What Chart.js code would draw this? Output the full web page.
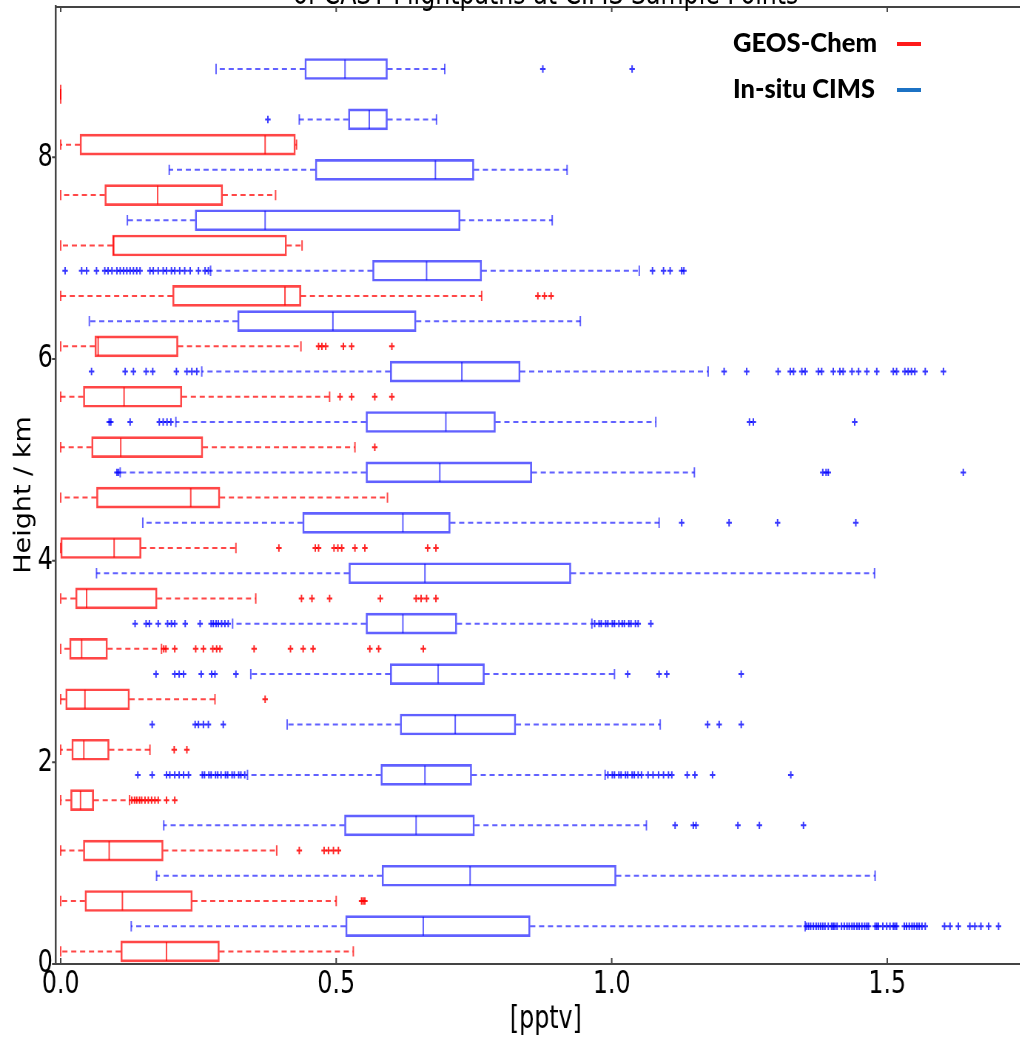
<!DOCTYPE html>
<html>
<head>
<meta charset="utf-8">
<script src="https://cdn.jsdelivr.net/npm/chart.js@4.4.1/dist/chart.umd.min.js"></script>
<style>
  html, body { margin: 0; padding: 0; overflow: hidden; background: #fff; width: 1020px; height: 1039px; }
  /* the figure is laid out at full width and squeezed horizontally */
  #stage { position: absolute; left: 0; top: 0; width: 1420px; height: 1039px;
           transform: scaleX(0.74); transform-origin: 0 0; }
  #plot { position: absolute; left: 0; top: 0; }
  #title { position: absolute; top: -23px; left: 75px; width: 1325px; text-align: center;
           font-family: 'DejaVu Sans'; font-size: 32px; line-height: 32px; white-space: nowrap; color: #000; }
  .legText { position: absolute; left: 733px; font-family: Lato, 'Open Sans', sans-serif; font-weight: 900;
             font-size: 26px; line-height: 26px; white-space: nowrap; color: #000; transform-origin: 0 0; }
  .legLine { position: absolute; left: 897px; width: 24px; height: 4px; }
</style>
</head>
<body>
<div id="stage">
  <canvas id="plot" width="1420" height="1039"></canvas>
  <div id="title">of CAST Flightpaths at CIMS Sample Points</div>
</div>
<div class="legText" id="legGeos" style="top:28.6px">GEOS-Chem</div>
<div class="legLine" style="top:42px;background:#ff1a1a"></div>
<div class="legText" id="legCims" style="top:75.2px">In-situ CIMS</div>
<div class="legLine" style="top:88px;background:#1c72c4"></div>

<script>
// ---- axes ----
const X_TICKS = [0, 0.5, 1.0, 1.5];
const Y_TICKS = [0, 2, 4, 6, 8];
const X_TITLE = '[pptv]';
const Y_TITLE = 'Height / km';

// ---- altitude bin centres (km) ----
const geosHeight = [0.125, 0.625, 1.125, 1.625, 2.125, 2.625, 3.125, 3.625, 4.125,
                    4.625, 5.125, 5.625, 6.125, 6.625, 7.125, 7.625, 8.125, 8.625];
const cimsHeight = [0.375, 0.875, 1.375, 1.875, 2.375, 2.875, 3.375, 3.875, 4.375,
                    4.875, 5.375, 5.875, 6.375, 6.875, 7.375, 7.875, 8.375, 8.875];

// ---- GEOS-Chem box statistics (pptv), bottom bin first ----
const geosWhiskerLow  = [0, 0, 0, 0, 0, 0, 0, 0, 0, 0, 0, 0, 0, 0, 0, 0, 0, 0];
const geosQ1          = [0.109, 0.044, 0.041, 0.018, 0.020, 0.009, 0.016, 0.027, 0.000,
                         0.065, 0.056, 0.041, 0.062, 0.203, 0.094, 0.080, 0.035, 0.000];
const geosMedian      = [0.192, 0.112, 0.088, 0.036, 0.042, 0.044, 0.038, 0.047, 0.097,
                         0.236, 0.109, 0.115, 0.068, 0.407, 0.096, 0.176, 0.371, 0.000];
const geosQ3          = [0.288, 0.239, 0.186, 0.060, 0.088, 0.125, 0.085, 0.175, 0.146,
                         0.289, 0.258, 0.220, 0.213, 0.436, 0.410, 0.294, 0.426, 0.000];
const geosWhiskerHigh = [0.531, 0.500, 0.392, 0.125, 0.162, 0.280, 0.183, 0.354, 0.318,
                         0.593, 0.534, 0.488, 0.436, 0.764, 0.438, 0.390, 0.428, 0.000];
const geosOutliers = [
  [],
  [0.546, 0.549, 0.552],
  [0.433, 0.478, 0.486, 0.495, 0.504],
  [0.129, 0.134, 0.138, 0.143, 0.147, 0.153, 0.159, 0.165, 0.171, 0.177, 0.192, 0.207],
  [0.206, 0.229],
  [0.371],
  [0.187, 0.191, 0.207, 0.245, 0.259, 0.276, 0.283, 0.289, 0.351, 0.417, 0.440, 0.458, 0.561, 0.577, 0.658],
  [0.437, 0.456, 0.488, 0.580, 0.645, 0.654, 0.664, 0.681],
  [0.396, 0.462, 0.468, 0.496, 0.503, 0.510, 0.534, 0.552, 0.666, 0.681],
  [],
  [0.570],
  [0.507, 0.528, 0.570, 0.601],
  [0.468, 0.474, 0.481, 0.513, 0.528, 0.601],
  [0.866, 0.878, 0.890],
  [], [], [], []
];

// ---- in-situ CIMS box statistics (pptv), bottom bin first ----
const cimsWhiskerLow  = [0.128, 0.174, 0.187, 0.339, 0.411, 0.345, 0.312, 0.065, 0.149,
                         0.108, 0.209, 0.256, 0.052, 0.272, 0.121, 0.197, 0.433, 0.282];
const cimsQ1          = [0.517, 0.583, 0.515, 0.581, 0.616, 0.598, 0.554, 0.523, 0.439,
                         0.554, 0.554, 0.598, 0.321, 0.566, 0.244, 0.462, 0.522, 0.443];
const cimsMedian      = [0.658, 0.743, 0.645, 0.661, 0.716, 0.685, 0.621, 0.661, 0.621,
                         0.688, 0.699, 0.728, 0.494, 0.664, 0.371, 0.680, 0.560, 0.516];
const cimsQ3          = [0.852, 1.008, 0.751, 0.746, 0.826, 0.769, 0.719, 0.926, 0.707,
                         0.855, 0.789, 0.834, 0.645, 0.764, 0.725, 0.750, 0.593, 0.593];
const cimsWhiskerHigh = [1.351, 1.478, 1.063, 0.988, 1.088, 1.005, 0.964, 1.477, 1.086,
                         1.150, 1.080, 1.175, 0.943, 1.050, 0.892, 0.919, 0.682, 0.697];
const cimsOutliers = [
  [1.353, 1.357, 1.361, 1.366, 1.371, 1.375, 1.379, 1.383, 1.387, 1.393, 1.399, 1.402, 1.405, 1.409,
   1.417, 1.422, 1.427, 1.431, 1.436, 1.440, 1.445, 1.449, 1.454, 1.459, 1.463, 1.466, 1.478, 1.481,
   1.484, 1.492, 1.499, 1.505, 1.511, 1.514, 1.517, 1.531, 1.535, 1.540, 1.545, 1.549, 1.554, 1.558,
   1.563, 1.569, 1.604, 1.614, 1.629, 1.650, 1.659, 1.670, 1.684, 1.702],
  [],
  [1.115, 1.148, 1.153, 1.229, 1.268, 1.348],
  [0.140, 0.166, 0.192, 0.198, 0.207, 0.215, 0.223, 0.232, 0.257, 0.261, 0.269, 0.273, 0.281, 0.285,
   0.291, 0.299, 0.303, 0.311, 0.315, 0.323, 0.327, 0.334,
   0.993, 1.001, 1.005, 1.013, 1.017, 1.025, 1.029, 1.037, 1.041, 1.048, 1.054, 1.066, 1.075, 1.085,
   1.094, 1.103, 1.109, 1.137, 1.151, 1.183, 1.325],
  [0.166, 0.244, 0.250, 0.259, 0.268, 0.295, 1.174, 1.195, 1.235],
  [0.173, 0.207, 0.215, 0.223, 0.255, 0.274, 0.280, 0.318, 1.029, 1.086, 1.100, 1.235],
  [0.135, 0.155, 0.161, 0.177, 0.194, 0.201, 0.207, 0.226, 0.253, 0.273, 0.277, 0.282, 0.286, 0.292,
   0.298, 0.304, 0.969, 0.977, 0.981, 0.989, 0.993, 1.001, 1.005, 1.013, 1.019, 1.023, 1.031, 1.035,
   1.043, 1.048, 1.071],
  [],
  [1.127, 1.213, 1.301, 1.443],
  [0.102, 0.105, 1.383, 1.389, 1.393, 1.638],
  [0.088, 0.091, 0.126, 0.179, 0.186, 0.193, 0.200, 1.250, 1.257, 1.441],
  [0.056, 0.117, 0.132, 0.155, 0.167, 0.210, 0.229, 0.238, 0.247, 1.204, 1.245, 1.302, 1.324, 1.330,
   1.345, 1.351, 1.375, 1.381, 1.402, 1.414, 1.420, 1.436, 1.448, 1.463, 1.481, 1.511, 1.517, 1.532,
   1.538, 1.544, 1.550, 1.569, 1.602],
  [],
  [0.008, 0.038, 0.047, 0.065, 0.080, 0.086, 0.093, 0.102, 0.108, 0.114, 0.120, 0.126, 0.132, 0.138,
   0.144, 0.162, 0.168, 0.177, 0.186, 0.192, 0.201, 0.207, 0.216, 0.225, 0.235, 0.250, 0.262, 0.268,
   1.074, 1.094, 1.106, 1.127, 1.131],
  [],
  [],
  [0.376],
  [0.875, 1.037]
];

// ---- styling ----
const RED = 'rgba(255,0,0,0.72)';
const BLUE = 'rgba(0,0,255,0.62)';
const RED_PT = 'rgba(255,0,0,0.85)';
const BLUE_PT = 'rgba(0,0,255,0.78)';
const AXIS = '#444';
const FONT = 'DejaVu Sans';

// ---- helpers turning the stat arrays into Chart.js points ----
const boxData = (h, q1, q3) => h.map((y, i) => ({ x: [q1[i], q3[i]], y }));
const pointData = (h, v) => h.map((y, i) => ({ x: v[i], y }));
const capData = (h, lo, hi) => h.flatMap((y, i) => [{ x: lo[i], y }, { x: hi[i], y }]);
const whiskerData = (h, lo, q1, q3, hi) => h.flatMap((y, i) => [
  { x: q1[i], y }, { x: lo[i], y }, { x: null, y: null },
  { x: q3[i], y }, { x: hi[i], y }, { x: null, y: null }
]);
const outlierData = (h, outs) => h.flatMap((y, i) => outs[i].map(v => ({ x: v, y })));

function boxSet(h, q1, q3, color) {
  return { type: 'bar', indexAxis: 'y', data: boxData(h, q1, q3),
           backgroundColor: 'rgba(0,0,0,0)', borderColor: color, borderWidth: 2,
           borderSkipped: false, grouped: false, categoryPercentage: 1, barPercentage: 1,
           maxBarThickness: 21 };
}
function whiskerSet(h, lo, q1, q3, hi, color) {
  return { type: 'line', data: whiskerData(h, lo, q1, q3, hi), borderColor: color, borderWidth: 2,
           borderDash: [7, 5], pointRadius: 0, spanGaps: false, fill: false, tension: 0 };
}
function tickMarkSet(data, color, radius) {
  return { type: 'scatter', data, showLine: false, pointStyle: 'line', pointRotation: 90,
           pointRadius: radius, pointBorderColor: color, borderColor: color, pointBorderWidth: 2,
           pointBackgroundColor: color };
}
function outlierSet(data, color) {
  return { type: 'scatter', data, showLine: false, pointStyle: 'cross', pointRadius: 3.7,
           pointBorderColor: color, borderColor: color, pointBorderWidth: 2, pointBackgroundColor: color };
}

// frame on top of the axes plus matplotlib-style tick marks
const framePlugin = {
  id: 'frame',
  afterDatasetsDraw(chart) {
    const { ctx, chartArea: a, scales: { x, y } } = chart;
    ctx.save();
    ctx.strokeStyle = AXIS;
    ctx.lineWidth = 2;
    ctx.beginPath();
    ctx.moveTo(a.left, a.top + 1);
    ctx.lineTo(a.right, a.top + 1);
    X_TICKS.forEach(v => {
      const px = x.getPixelForValue(v);
      ctx.moveTo(px, a.bottom); ctx.lineTo(px, a.bottom - 6);
      ctx.moveTo(px, a.top); ctx.lineTo(px, a.top + 6);
    });
    Y_TICKS.forEach(v => {
      const py = y.getPixelForValue(v);
      ctx.moveTo(a.left - 5, py); ctx.lineTo(a.left, py);
    });
    ctx.stroke();
    ctx.restore();
  }
};

// vertical caption of the height axis, sitting a little below the axis midpoint
const heightCaption = {
  id: 'heightCaption',
  afterDraw(chart) {
    const { ctx, chartArea: a } = chart;
    ctx.save();
    ctx.translate(33, (a.top + a.bottom) / 2 + 10);
    ctx.rotate(-Math.PI / 2);
    ctx.scale(1, 1.2);
    ctx.font = '27px "' + FONT + '"';
    ctx.fillStyle = '#000';
    ctx.textAlign = 'center';
    ctx.textBaseline = 'middle';
    ctx.fillText(Y_TITLE, 0, 0);
    ctx.restore();
  }
};

const chart = new Chart(document.getElementById('plot'), {
  type: 'bar',
  data: {
    datasets: [
      outlierSet(outlierData(geosHeight, geosOutliers), RED_PT),
      outlierSet(outlierData(cimsHeight, cimsOutliers), BLUE_PT),
      tickMarkSet(pointData(geosHeight, geosMedian), RED, 9.5),
      tickMarkSet(pointData(cimsHeight, cimsMedian), BLUE, 9.5),
      tickMarkSet(capData(geosHeight, geosWhiskerLow, geosWhiskerHigh), RED, 5.2),
      tickMarkSet(capData(cimsHeight, cimsWhiskerLow, cimsWhiskerHigh), BLUE, 5.2),
      whiskerSet(geosHeight, geosWhiskerLow, geosQ1, geosQ3, geosWhiskerHigh, RED),
      whiskerSet(cimsHeight, cimsWhiskerLow, cimsQ1, cimsQ3, cimsWhiskerHigh, BLUE),
      boxSet(geosHeight, geosQ1, geosQ3, RED),
      boxSet(cimsHeight, cimsQ1, cimsQ3, BLUE)
    ]
  },
  options: {
    responsive: false,
    devicePixelRatio: 1,
    animation: false,
    events: [],
    layout: { autoPadding: false, padding: { top: 6, right: 20, left: 0, bottom: 0 } },
    plugins: { legend: { display: false }, tooltip: { enabled: false }, title: { display: false } },
    scales: {
      x: {
        type: 'linear', position: 'bottom', min: -0.009, max: 1.77, offset: false,
        grid: { display: false, drawTicks: false, offset: false },
        border: { display: true, color: AXIS, width: 2 },
        afterBuildTicks: s => { s.ticks = X_TICKS.map(v => ({ value: v })); },
        afterFit: s => { s.height = 75; s.paddingLeft = 0; s.paddingRight = 0; },
        ticks: { padding: 1, color: '#000', autoSkip: false, maxRotation: 0,
                 font: { family: FONT, size: 32 }, callback: v => v.toFixed(1) },
        title: { display: true, text: X_TITLE, color: '#000',
                 font: { family: FONT, size: 32 }, padding: { top: 0, bottom: 0 } }
      },
      y: {
        type: 'linear', position: 'left', min: 0, max: 9.5, offset: false,
        grid: { display: false, drawTicks: false, offset: false },
        border: { display: true, color: AXIS, width: 2.5 },
        afterBuildTicks: s => { s.ticks = Y_TICKS.map(v => ({ value: v })); },
        afterFit: s => { s.width = 75.3; s.paddingTop = 0; s.paddingBottom = 0; },
        ticks: { padding: 4, color: '#000', font: { family: FONT, size: 32 }, callback: v => String(v) },
        title: { display: false }
      }
    }
  },
  plugins: [framePlugin, heightCaption]
});

// centre the heading over the plotting area
const ttl = document.getElementById('title');
ttl.style.left = chart.chartArea.left + 'px';
ttl.style.width = (chart.chartArea.right - chart.chartArea.left) + 'px';

// legend captions sized to their slots
function fitWidth(id, target) {
  const el = document.getElementById(id);
  el.style.transform = 'none';
  const w = el.getBoundingClientRect().width;
  if (w > 0) el.style.transform = 'scaleX(' + (target / w) + ')';
}
function fitLegend() { fitWidth('legGeos', 144); fitWidth('legCims', 142); }
fitLegend();
if (document.fonts && document.fonts.ready) document.fonts.ready.then(fitLegend);
</script>
</body>
</html>
